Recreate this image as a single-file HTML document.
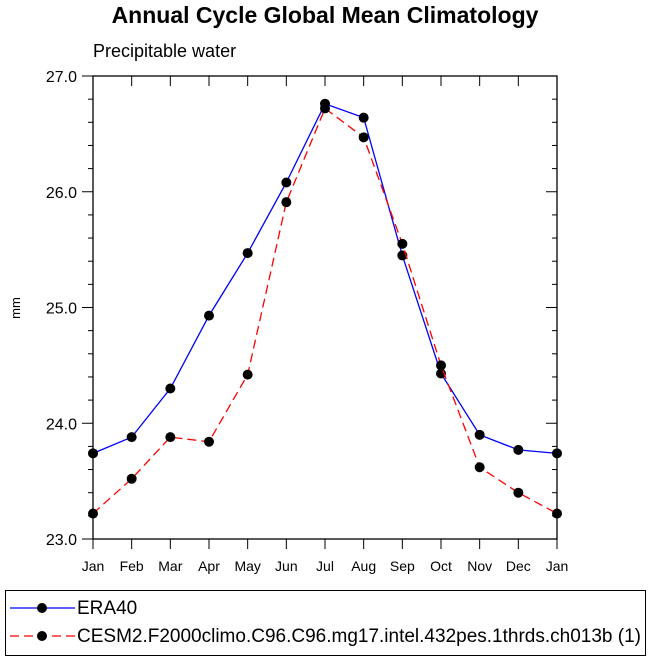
<!DOCTYPE html>
<html><head><meta charset="utf-8"><style>body{margin:0;background:#fff}svg{display:block;font-family:"Liberation Sans",Helvetica,sans-serif}</style></head>
<body>
<svg id="c" width="650" height="660">
<text x="325" y="23" font-size="23" font-weight="bold" text-anchor="middle">Annual Cycle Global Mean Climatology</text>
<text x="93" y="57" font-size="18">Precipitable water</text>
<text x="20" y="308" font-size="13" text-anchor="middle" transform="rotate(-90 20 308)">mm</text>
<g id="ax"></g>
<g id="series"></g>
<rect x="5.5" y="590.5" width="640" height="65" fill="none" stroke="#000"/>
<g><line x1="10" y1="608" x2="75" y2="608" stroke="#00f" stroke-width="1.3"/><circle cx="42" cy="608" r="5"/><text x="77" y="614" font-size="19">ERA40</text></g>
<g><line x1="10" y1="636" x2="75" y2="636" stroke="#f00" stroke-width="1.3" stroke-dasharray="9,5"/><circle cx="42" cy="636" r="5"/><text x="77" y="642" font-size="19">CESM2.F2000climo.C96.C96.mg17.intel.432pes.1thrds.ch013b (1)</text></g>
</svg>
<script>
const months=["Jan","Feb","Mar","Apr","May","Jun","Jul","Aug","Sep","Oct","Nov","Dec","Jan"];
const era40=[23.74,23.88,24.30,24.93,25.47,26.08,26.76,26.64,25.45,24.43,23.90,23.77,23.74];
const cesm=[23.22,23.52,23.88,23.84,24.42,25.91,26.72,26.47,25.55,24.50,23.62,23.40,23.22];
const yTicks=[23,24,25,26,27];
const L=93,R=557,T=76,B=539,ymin=23,ymax=27;
const xs=i=>L+(R-L)*i/(months.length-1);
const ys=v=>B-(v-ymin)/(ymax-ymin)*(B-T);
const NS="http://www.w3.org/2000/svg";
function mk(p,t,a){const e=document.createElementNS(NS,t);for(const k in a)e.setAttribute(k,a[k]);p.appendChild(e);return e;}
const ax=document.getElementById('ax');
const fr=mk(ax,'rect',{x:L,y:T,width:R-L,height:B-T,fill:'none',stroke:'#000','stroke-width':1.3});


for(let v=ymin;v<=ymax+1e-9;v+=0.2){const y=ys(v);const maj=Math.abs(v-Math.round(v))<1e-6;const len=maj?11:5;
mk(ax,'line',{x1:L-len,y1:y,x2:L,y2:y,stroke:'#000'});mk(ax,'line',{x1:R,y1:y,x2:R-len,y2:y,stroke:'#000'});}
yTicks.forEach(v=>{const t=mk(ax,'text',{x:L-16,y:ys(v)+6,'font-size':16,'text-anchor':'end'});t.textContent=v.toFixed(1);

});
months.forEach((m,i)=>{const x=xs(i);mk(ax,'line',{x1:x,y1:B,x2:x,y2:B+10,stroke:'#000'});mk(ax,'line',{x1:x,y1:T,x2:x,y2:T+10,stroke:'#000'});
const t=mk(ax,'text',{x:x,y:B+32,'font-size':14,'text-anchor':'middle'});t.textContent=m;

});
const sg=document.getElementById('series');
function draw(d,col,dash,name){const g=mk(sg,'g',{});


mk(g,'polyline',{points:d.map((v,i)=>xs(i)+','+ys(v)).join(' '),fill:'none',stroke:col,'stroke-width':1.3,'stroke-dasharray':dash});
d.forEach((v,i)=>{const c=mk(g,'circle',{cx:xs(i),cy:ys(v),r:5});

});}
draw(era40,'#00f','none','era40-series');
draw(cesm,'#f00','9,5','cesm2-series');
</script>
</body></html>
